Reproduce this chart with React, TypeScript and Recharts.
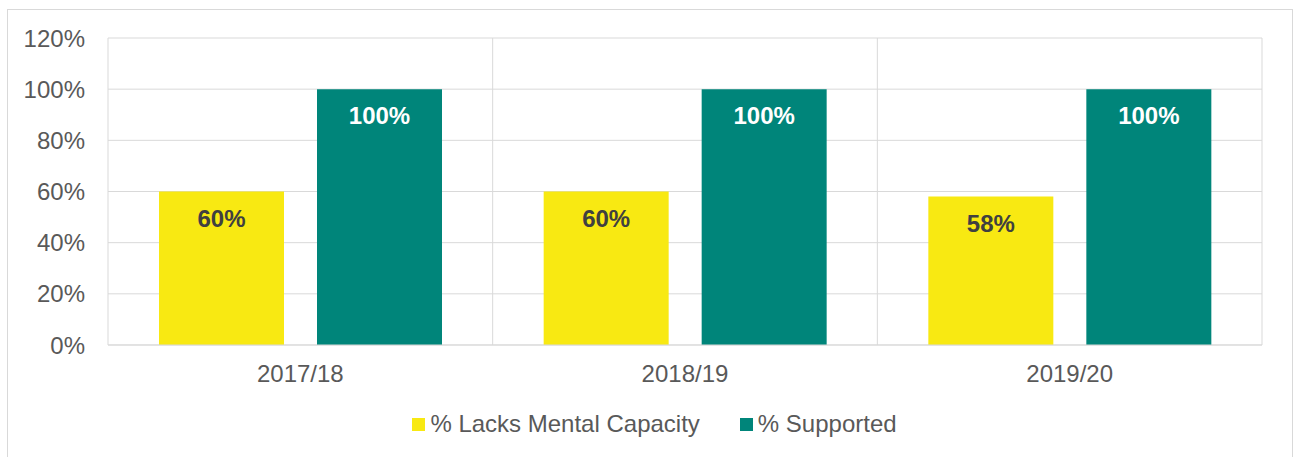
import React from 'react';
import {
   BarChart,
   Bar,
   XAxis,
   YAxis,
   CartesianGrid,
   Legend,
   LabelList,
} from 'recharts';

const years = ['2017/18', '2018/19', '2019/20'];
const lacksCapacity = [60, 60, 58];
const supported = [100, 100, 100];
const yTicks = [0, 20, 40, 60, 80, 100, 120];

const YELLOW = '#F8E912';
const TEAL = '#00857A';
const GRID = '#D9D9D9';
const FONT = '"Liberation Sans", Arial, sans-serif';

const chartData = years.map((year, i) => ({
   year,
   lacks: lacksCapacity[i],
   supported: supported[i],
}));

const LegendContent = ({ payload }: any) => (
   <div
      style={{
         display: 'flex',
         justifyContent: 'center',
         alignItems: 'center',
         fontFamily: FONT,
         fontSize: 24,
         color: '#595959',
      }}
   >
      {(payload || []).map((entry: any, i: number) => (
         <div
            key={i}
            style={{
               display: 'flex',
               alignItems: 'center',
               marginLeft: i > 0 ? 40 : 0,
            }}
         >
            <span
               style={{
                  width: 13,
                  height: 13,
                  background: entry.color,
                  display: 'inline-block',
                  marginRight: 5,
               }}
            />
            <span>{entry.value}</span>
         </div>
      ))}
   </div>
);

export default function App() {
   return (
      <div
         style={{
            position: 'absolute',
            left: 0,
            top: 0,
            width: 1293,
            height: 457,
            overflow: 'hidden',
            background: '#fff',
         }}
      >
         <div
            style={{
               position: 'absolute',
               left: 7,
               top: 9,
               width: 1286,
               height: 470,
               border: `1px solid ${GRID}`,
               boxSizing: 'border-box',
            }}
         />
         <BarChart
            width={1293}
            height={457}
            data={chartData}
            margin={{ top: 38, right: 31, left: 0, bottom: 82 }}
            barCategoryGap={51}
            barGap={33}
            style={{ position: 'absolute', left: 0, top: 0 }}
         >
            <CartesianGrid
               stroke={GRID}
               strokeWidth={1}
               verticalCoordinatesGenerator={({ offset }: any) =>
                  [0, 1, 2, 3].map((i) => offset.left + (offset.width * i) / 3)
               }
            />
            <XAxis
               dataKey="year"
               height={30}
               tickLine={false}
               tickSize={0}
               tickMargin={20}
               axisLine={{ stroke: GRID }}
               tick={{ fontSize: 24, fill: '#595959', fontFamily: FONT }}
            />
            <YAxis
               width={108}
               domain={[0, 120]}
               ticks={yTicks}
               interval={0}
               tickFormatter={(v: number) => `${v}%`}
               tickLine={false}
               tickSize={0}
               tickMargin={23}
               axisLine={false}
               tick={{ fontSize: 24, fill: '#595959', fontFamily: FONT }}
            />
            <Legend
               verticalAlign="middle"
               layout="horizontal"
               content={<LegendContent />}
               wrapperStyle={{ top: 410, left: 8, width: 1293 }}
            />
            <Bar
               dataKey="lacks"
               name="% Lacks Mental Capacity"
               fill={YELLOW}
               barSize={125}
               isAnimationActive={false}
            >
               <LabelList
                  dataKey="lacks"
                  position="insideTop"
                  offset={18}
                  formatter={(v: any) => `${v}%`}
                  style={{
                     fontSize: 24,
                     fontWeight: 'bold',
                     fill: '#404040',
                     fontFamily: FONT,
                  }}
               />
            </Bar>
            <Bar
               dataKey="supported"
               name="% Supported"
               fill={TEAL}
               barSize={125}
               isAnimationActive={false}
            >
               <LabelList
                  dataKey="supported"
                  position="insideTop"
                  offset={18}
                  formatter={(v: any) => `${v}%`}
                  style={{
                     fontSize: 24,
                     fontWeight: 'bold',
                     fill: '#ffffff',
                     fontFamily: FONT,
                  }}
               />
            </Bar>
         </BarChart>
      </div>
   );
}
